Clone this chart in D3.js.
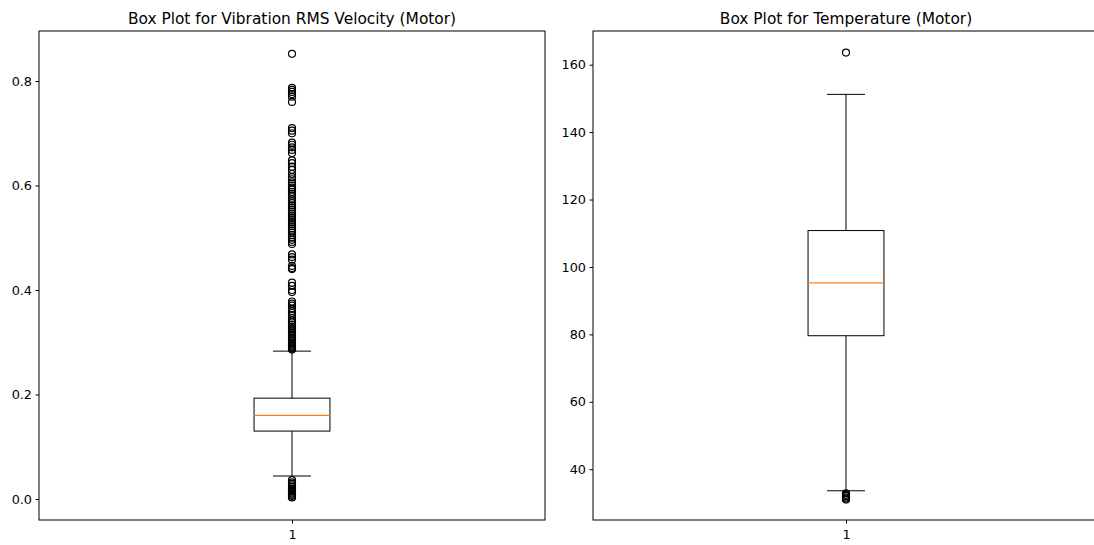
<!DOCTYPE html>
<html>
<head>
<meta charset="utf-8">
<script src="https://cdn.jsdelivr.net/npm/d3@7"></script>
<style>
  body { margin: 0; background: #fff; }
  text { font-family: "DejaVu Sans", sans-serif; fill: #000; }
</style>
</head>
<body>
<div id="chart"></div>
<script>
var width = 1094;
var height = 545;

// box statistics: [lowWhisker, q1, median, q3, highWhisker]
var vibStats = [0.044, 0.130, 0.160, 0.193, 0.283];
var vibOutliersHigh = [0.852, 0.787, 0.783, 0.779, 0.775, 0.770, 0.760,
  0.710, 0.705, 0.700, 0.682, 0.678, 0.673, 0.668, 0.662, 0.648, 0.643, 0.636, 0.630, 0.622,
  0.616, 0.612, 0.606, 0.600, 0.596, 0.592, 0.588, 0.584, 0.580, 0.574, 0.570, 0.566, 0.562,
  0.558, 0.554, 0.550, 0.546, 0.542, 0.538, 0.534, 0.530, 0.526, 0.522, 0.518, 0.514,
  0.510, 0.505, 0.500, 0.496, 0.492, 0.488,
  0.468, 0.463, 0.458, 0.446, 0.442, 0.440, 0.414, 0.408, 0.400, 0.396,
  0.378, 0.374, 0.370, 0.364, 0.360, 0.356, 0.352, 0.346, 0.342, 0.338, 0.334,
  0.330, 0.327, 0.324, 0.321, 0.318, 0.315, 0.312, 0.309, 0.306, 0.303, 0.300,
  0.298, 0.296, 0.294, 0.292, 0.290, 0.288, 0.286];
var vibOutliersLow = [0.036, 0.032, 0.029, 0.026, 0.023, 0.020, 0.018, 0.016, 0.014,
  0.012, 0.010, 0.008, 0.006, 0.004, 0.003];
var vibTicks = [0.0, 0.2, 0.4, 0.6, 0.8];
var vibDomain = [-0.0402, 0.8957];

var tempStats = [33.6, 79.6, 95.3, 110.8, 151.2];
var tempOutliersHigh = [163.6];
var tempOutliersLow = [32.8, 32.4, 32.0, 31.6, 31.3, 31.0];
var tempTicks = [40, 60, 80, 100, 120, 140, 160];
var tempDomain = [24.93, 170.0];

var panels = [
  { title: "Box Plot for Vibration RMS Velocity (Motor)", left: 39, stats: vibStats,
    outliers: vibOutliersHigh.concat(vibOutliersLow), ticks: vibTicks, domain: vibDomain, fmt: d3.format(".1f") },
  { title: "Box Plot for Temperature (Motor)", left: 593, stats: tempStats,
    outliers: tempOutliersHigh.concat(tempOutliersLow), ticks: tempTicks, domain: tempDomain, fmt: d3.format("d") }
];

var plotW = 506;
var plotTop = 31;
var plotBottom = 520;

var svg = d3.select("#chart")
  .append("svg")
  .attr("width", width)
  .attr("height", height);

panels.forEach(function(p) {
  var x = d3.scaleLinear().domain([0.5, 1.5]).range([p.left, p.left + plotW]);
  var y = d3.scaleLinear().domain(p.domain).range([plotBottom, plotTop]);
  var g = svg.append("g");
  var s = p.stats;
  var cx = x(1);

  // whiskers
  g.append("line").attr("x1", cx).attr("x2", cx).attr("y1", y(s[0])).attr("y2", y(s[1]))
    .attr("stroke", "#000").attr("stroke-width", 1);
  g.append("line").attr("x1", cx).attr("x2", cx).attr("y1", y(s[3])).attr("y2", y(s[4]))
    .attr("stroke", "#000").attr("stroke-width", 1);
  [s[0], s[4]].forEach(function(v) {
    g.append("line").attr("x1", x(1 - 0.0375)).attr("x2", x(1 + 0.0375))
      .attr("y1", y(v)).attr("y2", y(v))
      .attr("stroke", "#000").attr("stroke-width", 1);
  });

  // box
  g.append("rect")
    .attr("x", x(1 - 0.075)).attr("y", y(s[3]))
    .attr("width", x(1 + 0.075) - x(1 - 0.075))
    .attr("height", y(s[1]) - y(s[3]))
    .attr("fill", "none").attr("stroke", "#000").attr("stroke-width", 1);
  g.append("line").attr("x1", x(1 - 0.075)).attr("x2", x(1 + 0.075))
    .attr("y1", y(s[2])).attr("y2", y(s[2]))
    .attr("stroke", "#ff7f0e").attr("stroke-width", 1.2);

  // outliers
  g.selectAll("circle.flier")
    .data(p.outliers)
    .enter()
    .append("circle")
    .attr("class", "flier")
    .attr("cx", cx)
    .attr("cy", function(d) { return y(d); })
    .attr("r", 3.5)
    .attr("fill", "none")
    .attr("stroke", "#000")
    .attr("stroke-width", 1.2);

  // axes
  var yAxis = d3.axisLeft(y).tickValues(p.ticks).tickFormat(p.fmt).tickSize(3.5).tickPadding(3.5);
  var ya = g.append("g").attr("transform", "translate(" + p.left + ",0)").call(yAxis);
  var xAxis = d3.axisBottom(x).tickValues([1]).tickFormat(d3.format("d")).tickSize(3.5).tickPadding(6);
  var xa = g.append("g").attr("transform", "translate(0," + plotBottom + ")").call(xAxis);
  [ya, xa].forEach(function(a) {
    a.select(".domain").remove();
    a.selectAll("text").style("font-size", "12.8px").style("font-family", "DejaVu Sans").attr("fill", "#222");
    a.selectAll("line").attr("stroke", "#000");
  });

  // frame
  g.append("rect")
    .attr("x", p.left).attr("y", plotTop)
    .attr("width", plotW).attr("height", plotBottom - plotTop)
    .attr("fill", "none").attr("stroke", "#000").attr("stroke-width", 1);

  g.append("text")
    .attr("x", p.left + plotW / 2)
    .attr("y", plotTop - 7)
    .attr("text-anchor", "middle")
    .style("font-size", "15.4px")
    .text(p.title);
});
</script>
</body>
</html>
